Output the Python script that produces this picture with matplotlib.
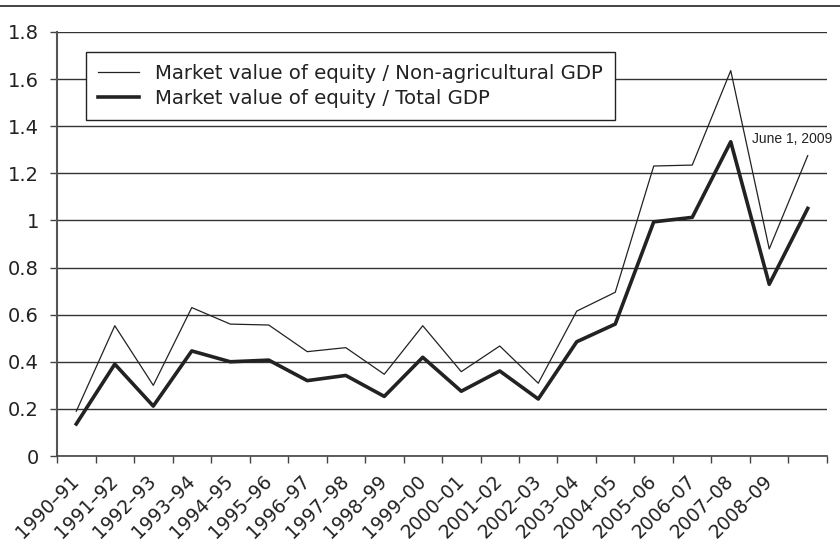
import matplotlib
matplotlib.use('Agg')
import matplotlib.pyplot as plt
from matplotlib.lines import Line2D
import numpy as np

years = ['1990\u201391', '1991\u201392', '1992\u201393', '1993\u201394', '1994\u201395',
         '1995\u201396', '1996\u201397', '1997\u201398', '1998\u201399', '1999\u201300',
         '2000\u201301', '2001\u201302', '2002\u201303', '2003\u201304', '2004\u201305',
         '2005\u201306', '2006\u201307', '2007\u201308', '2008\u201309', '']

non_agri = [0.19, 0.553, 0.30, 0.63, 0.56, 0.556, 0.443, 0.46, 0.347, 0.553,
            0.358, 0.467, 0.309, 0.615, 0.695, 1.231, 1.235, 1.636, 0.879, 1.275]
total = [0.136, 0.39, 0.212, 0.446, 0.40, 0.407, 0.32, 0.342, 0.253, 0.419,
         0.275, 0.361, 0.242, 0.485, 0.56, 0.994, 1.013, 1.334, 0.729, 1.051]

yticks = [0, 0.2, 0.4, 0.6, 0.8, 1, 1.2, 1.4, 1.6, 1.8]
ytick_labels = ['0', '0.2', '0.4', '0.6', '0.8', '1', '1.2', '1.4', '1.6', '1.8']

plt.rcParams['font.family'] = 'DejaVu Sans'
ink = '#222222'

fig = plt.figure(figsize=(8.4, 5.6), dpi=100)
ax = fig.add_axes([0.0679, 0.1857, 0.9166, 0.7572])

x = np.arange(len(years))
ax.plot(x, non_agri, color=ink, lw=0.9, label='Market value of equity / Non-agricultural GDP')
ax.plot(x, total, color=ink, lw=2.6, label='Market value of equity / Total GDP')

ax.set_xlim(-0.5, len(years) - 0.5)
ax.set_ylim(0, 1.8)
ax.set_yticks(yticks)
ax.set_yticklabels(ytick_labels)
ax.yaxis.grid(True, color='#333333', lw=1.0)
ax.set_axisbelow(True)

# labels sit under the category centres, tick marks between categories
ax.set_xticks(x)
ax.set_xticklabels(years, rotation=45, ha='right', va='center', rotation_mode='anchor')
ax.set_xticks(np.arange(-0.5, len(years)), minor=True)
ax.tick_params(axis='x', which='major', length=0, pad=16, labelsize=13.5, colors=ink)
ax.tick_params(axis='x', which='minor', length=5, width=1, color='#444444')
ax.tick_params(axis='y', length=5, width=1, color='#444444', pad=8, labelsize=14, labelcolor=ink)

for s in ['top', 'right']:
    ax.spines[s].set_visible(False)
ax.spines['left'].set_color('#555555')
ax.spines['left'].set_linewidth(1.5)
ax.spines['bottom'].set_color('#444444')
ax.spines['bottom'].set_linewidth(1.2)

leg = ax.legend(loc='upper left', bbox_to_anchor=(0.0377, 0.953), borderaxespad=0,
                fontsize=14.2, fancybox=False, framealpha=1, edgecolor=ink,
                handlelength=2.1, handletextpad=0.8, labelspacing=0.32,
                borderpad=0.6)
leg.get_frame().set_linewidth(1.0)
for t in leg.get_texts():
    t.set_color(ink)

ax.text(17.55, 1.345, 'June 1, 2009', fontsize=10, family='Liberation Sans',
        color=ink, va='center', ha='left')

fig.add_artist(Line2D([0, 1], [0.989, 0.989], transform=fig.transFigure,
                      color=ink, lw=1.2))

fig.savefig('out.png', dpi=100)
